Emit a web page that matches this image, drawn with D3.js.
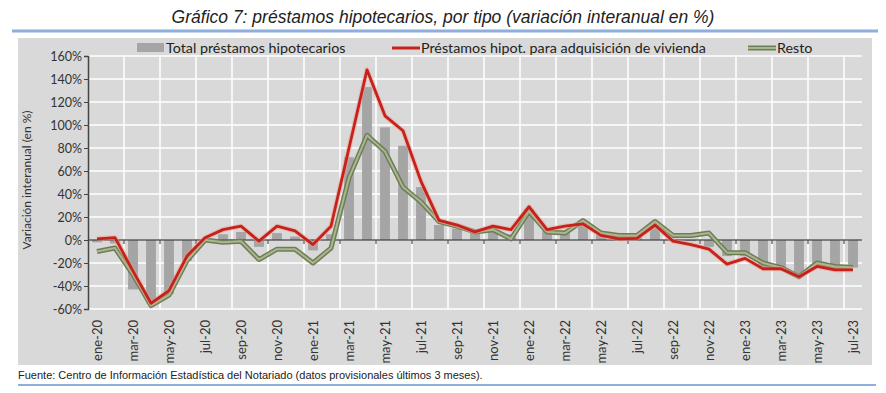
<!DOCTYPE html>
<html>
<head>
<meta charset="utf-8">
<script src="https://cdnjs.cloudflare.com/ajax/libs/d3/7.8.5/d3.min.js"></script>
<style>
  body { margin: 0; background: #fff; }
  svg { display: block; }
</style>
</head>
<body>
<svg id="chart" width="886" height="393"></svg>
<script>
var months = ["ene-20","feb-20","mar-20","abr-20","may-20","jun-20","jul-20","ago-20","sep-20","oct-20","nov-20","dic-20",
  "ene-21","feb-21","mar-21","abr-21","may-21","jun-21","jul-21","ago-21","sep-21","oct-21","nov-21","dic-21",
  "ene-22","feb-22","mar-22","abr-22","may-22","jun-22","jul-22","ago-22","sep-22","oct-22","nov-22","dic-22",
  "ene-23","feb-23","mar-23","abr-23","may-23","jun-23","jul-23"];

// Total préstamos hipotecarios (bars)
var total = [-2,-3,-43,-55,-47,-18,0,5,7,-6,6,3,
  -9,5,72,133,98,82,46,13,10,7,10,5,
  27,8,8,15,5,3,3,14,1,-1,-6,-14,
  -14,-24,-26,-32,-21,-24,-24];

// Préstamos hipot. para adquisición de vivienda (red)
var vivienda = [1,2,-27,-55,-44,-14,2,9,12,-1,12,8,
  -4,12,80,148,108,95,51,17,13,7,12,9,
  29,9,12,14,4,1,1.5,13,-1,-4,-8,-21,
  -16,-25,-25,-32,-23,-26,-26];

// Resto (green)
var resto = [-10,-7,-30,-57,-48,-18,0,-2,-1,-17,-8,-8,
  -20,-7,54,91,77,46,33,16,12,7,9,1,
  25,7,6,17,6,4,4,16,4,4,6,-11,
  -11,-20,-24,-32,-20,-23,-24];

var yTicks = [-60,-40,-20,0,20,40,60,80,100,120,140,160];

var svg = d3.select("#chart");

// header
svg.append("text")
  .attr("x", 443).attr("y", 23)
  .attr("text-anchor", "middle")
  .attr("font-family", "Liberation Sans Narrow, Liberation Sans, sans-serif")
  .attr("font-style", "italic")
  .attr("font-size", "17.5px")
  .attr("fill", "#222")
  .text("Gráfico 7: préstamos hipotecarios, por tipo (variación interanual en %)");

svg.append("line")
  .attr("x1", 12).attr("x2", 878).attr("y1", 31).attr("y2", 31)
  .attr("stroke", "#8eaedb").attr("stroke-width", 3);

// gray chart area
svg.append("rect")
  .attr("x", 18).attr("y", 38).attr("width", 854).attr("height", 327)
  .attr("fill", "#d9d9d9");

var x = d3.scaleBand().domain(months).range([88, 862]).padding(0);
var y = d3.scaleLinear().domain([-60, 160]).range([309, 56]);

var cx = function(m){ return x(m) + x.bandwidth() / 2; };

// grid
svg.selectAll(".hgrid").data(yTicks)
  .enter().append("line")
  .attr("class", "hgrid")
  .attr("x1", 88).attr("x2", 862)
  .attr("y1", function(d){ return y(d); })
  .attr("y2", function(d){ return y(d); })
  .attr("stroke", "#fff").attr("stroke-width", 1.5);

var evenMonths = months.filter(function(m, i){ return i % 2 == 0; });

svg.selectAll(".vgrid").data(evenMonths.slice(1))
  .enter().append("line")
  .attr("class", "vgrid")
  .attr("x1", function(d){ return x(d); })
  .attr("x2", function(d){ return x(d); })
  .attr("y1", y(160)).attr("y2", y(-60))
  .attr("stroke", "#fff").attr("stroke-width", 1.5);

// bars
var barW = x.bandwidth() * 0.55;
svg.selectAll(".bar").data(months)
  .enter().append("rect")
  .attr("class", "bar")
  .attr("x", function(d){ return cx(d) - barW / 2; })
  .attr("y", function(d, i){ return y(Math.max(0, total[i])); })
  .attr("width", barW)
  .attr("height", function(d, i){ return Math.abs(y(total[i]) - y(0)); })
  .attr("fill", "#a5a5a5");

// zero line with ticks
svg.append("line")
  .attr("x1", 88).attr("x2", 862).attr("y1", y(0)).attr("y2", y(0))
  .attr("stroke", "#555").attr("stroke-width", 1.5);
svg.selectAll(".xtick").data(evenMonths.slice(1))
  .enter().append("line")
  .attr("class", "xtick")
  .attr("x1", function(d){ return x(d); })
  .attr("x2", function(d){ return x(d); })
  .attr("y1", y(0)).attr("y2", y(0) + 4)
  .attr("stroke", "#555").attr("stroke-width", 1.2);

// y axis
var yAxis = d3.axisLeft(y).tickValues(yTicks).tickSize(4)
  .tickFormat(function(d){ return d + "%"; });
var gy = svg.append("g").attr("transform", "translate(88,0)").call(yAxis);
gy.select(".domain").attr("stroke", "#444").attr("stroke-width", 1.5);
gy.selectAll(".tick line").attr("stroke", "#444");
gy.selectAll(".tick text")
  .attr("font-family", "Lato, sans-serif")
  .attr("font-size", "12.5px")
  .attr("fill", "#333")
  .attr("x", -6);

svg.append("text")
  .attr("transform", "translate(31,180) rotate(-90)")
  .attr("text-anchor", "middle")
  .attr("font-family", "Lato, sans-serif")
  .attr("font-size", "12px")
  .attr("fill", "#333")
  .text("Variación interanual (en %)");

// x labels
svg.selectAll(".xlab").data(evenMonths)
  .enter().append("text")
  .attr("class", "xlab")
  .attr("transform", function(d){ return "translate(" + (cx(d) + 4.5) + ",320) rotate(-90)"; })
  .attr("text-anchor", "end")
  .attr("font-family", "Lato, sans-serif")
  .attr("font-size", "13px")
  .attr("fill", "#333")
  .text(function(d){ return d; });

// lines
var line = d3.line()
  .x(function(d, i){ return cx(months[i]); })
  .y(function(d){ return y(d); });

svg.append("path").datum(resto)
  .attr("d", line).attr("fill", "none")
  .attr("stroke", "#6e7d57").attr("stroke-width", 5).attr("stroke-linejoin", "round");
svg.append("path").datum(resto)
  .attr("d", line).attr("fill", "none")
  .attr("stroke", "#a8b78e").attr("stroke-width", 2).attr("stroke-linejoin", "round");

svg.append("path").datum(vivienda)
  .attr("d", line).attr("fill", "none")
  .attr("stroke", "#e8a090").attr("stroke-opacity", 0.5).attr("stroke-width", 5).attr("stroke-linejoin", "round");
svg.append("path").datum(vivienda)
  .attr("d", line).attr("fill", "none")
  .attr("stroke", "#c8201a").attr("stroke-width", 2.8).attr("stroke-linejoin", "round");

// legend
var legend = [
  {name: "Total préstamos hipotecarios", type: "bar", x: 137},
  {name: "Préstamos hipot. para adquisición de vivienda", type: "red", x: 392},
  {name: "Resto", type: "green", x: 748}
];
var lg = svg.selectAll(".leg").data(legend).enter().append("g")
  .attr("class", "leg")
  .attr("transform", function(d){ return "translate(" + d.x + ",48)"; });
lg.each(function(d){
  var g = d3.select(this);
  if (d.type == "bar") {
    g.append("rect").attr("x", 0).attr("y", -5).attr("width", 27).attr("height", 9).attr("fill", "#a5a5a5");
  } else if (d.type == "red") {
    g.append("line").attr("x1", 0).attr("x2", 28).attr("y1", 0).attr("y2", 0)
      .attr("stroke", "#c8201a").attr("stroke-width", 3);
  } else {
    g.append("line").attr("x1", 0).attr("x2", 28).attr("y1", 0).attr("y2", 0)
      .attr("stroke", "#6e7d57").attr("stroke-width", 5);
    g.append("line").attr("x1", 0).attr("x2", 28).attr("y1", 0).attr("y2", 0)
      .attr("stroke", "#a8b78e").attr("stroke-width", 2);
  }
  g.append("text").attr("x", 29).attr("y", 5)
    .attr("font-family", "Lato, sans-serif")
    .attr("font-size", "14.3px")
    .attr("fill", "#222")
    .text(d.name);
});

// footer
svg.append("text")
  .attr("x", 18).attr("y", 379)
  .attr("font-family", "Liberation Sans, Arial, sans-serif")
  .attr("font-size", "11px")
  .attr("fill", "#222")
  .text("Fuente: Centro de Información Estadística del Notariado (datos provisionales últimos 3 meses).");

svg.append("line")
  .attr("x1", 18).attr("x2", 876).attr("y1", 385).attr("y2", 385)
  .attr("stroke", "#8eaedb").attr("stroke-width", 2);
</script>
</body>
</html>
